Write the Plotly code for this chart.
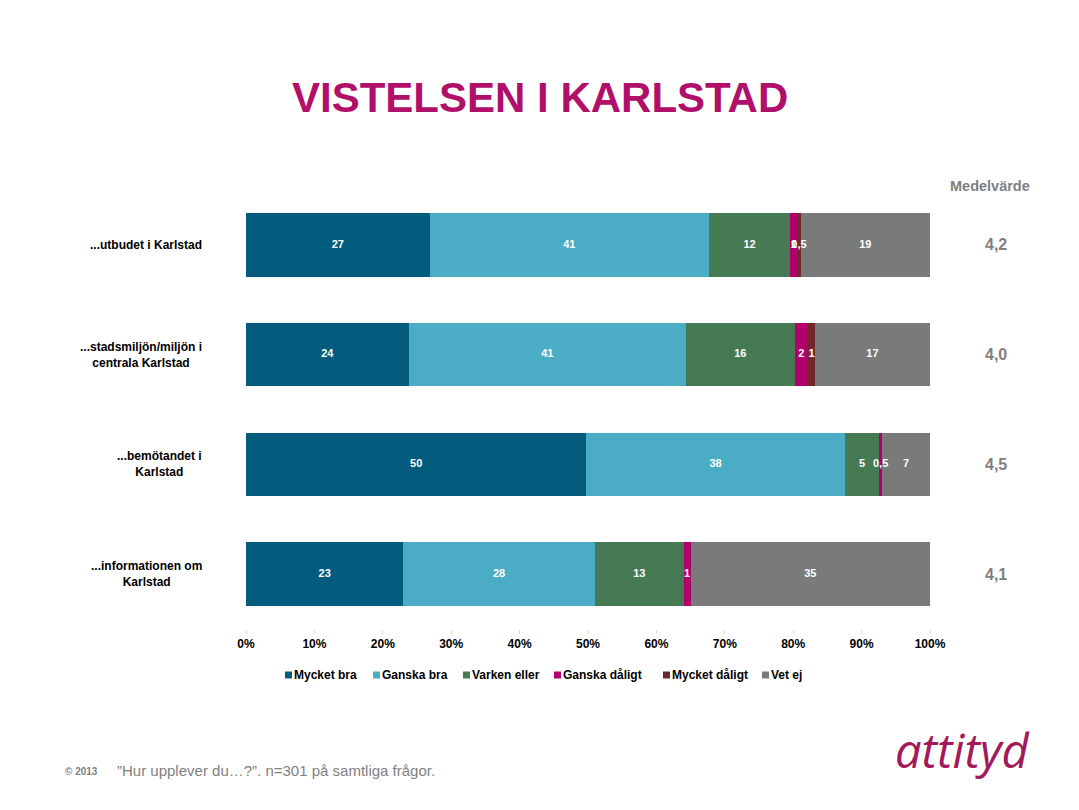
import plotly.graph_objects as go

categories = ["...utbudet i Karlstad", "...stadsmiljön/miljön i<br>centrala Karlstad",
              "...bemötandet i<br>Karlstad", "...informationen om<br>Karlstad"]
series_names = ["Mycket bra", "Ganska bra", "Varken eller", "Ganska dåligt", "Mycket dåligt", "Vet ej"]
mycket_bra = [27, 24, 50, 23]
ganska_bra = [41, 41, 38, 28]
varken_eller = [12, 16, 5, 13]
ganska_daligt = [1, 2, 0.5, 1]
mycket_daligt = [0.5, 1, 0, 0]
vet_ej = [19, 17, 7, 35]
medelvarde = ["4,2", "4,0", "4,5", "4,1"]
x_ticks = [0, 10, 20, 30, 40, 50, 60, 70, 80, 90, 100]

colors = ["#035C7D", "#4BACC6", "#467A55", "#B1006B", "#6E2828", "#7A7A7A"]
series = [mycket_bra, ganska_bra, varken_eller, ganska_daligt, mycket_daligt, vet_ej]

FONT = "Arial, Liberation Sans, sans-serif"
OFF = 8  # page body margin
W, H = 1079 - OFF, 810 - OFF


def fmt(v):
    if v == 0:
        return ""
    return ("%g" % v).replace(".", ",")


fig = go.Figure()
for name, vals, col in zip(series_names, series, colors):
    fig.add_trace(go.Bar(
        name=name, y=categories, x=vals, orientation="h",
        marker=dict(color=col, line=dict(width=0)),
        textposition="none", hoverinfo="skip", showlegend=False,
    ))

# value labels on top of all bars (midpoints of the normalised stacks)
totals = [sum(s[i] for s in series) for i in range(len(categories))]
cum = [0.0] * len(categories)
for vals in series:
    mids, texts = [], []
    for i, v in enumerate(vals):
        mids.append((cum[i] + v / 2) / totals[i] * 100)
        cum[i] += v
        texts.append(fmt(v))
    fig.add_trace(go.Scatter(
        x=mids, y=categories, mode="text", text=texts, textposition="middle center",
        textfont=dict(color="white", size=11, family=FONT, weight="bold"),
        hoverinfo="skip", showlegend=False, cliponaxis=False,
    ))

# plot area geometry in page px
L, R, T, B = 246, 930, 190, 629


def px_x(p):
    return (p - L) / (R - L)


def px_y(p):
    return (B - p) / (B - T)


ann = []
shapes = []
for cat, m in zip(categories, medelvarde):
    ann.append(dict(x=px_x(204), y=cat, xref="paper", yref="y", text=cat, showarrow=False,
                    xanchor="right", yanchor="middle", align="center",
                    font=dict(family=FONT, size=12, color="black", weight="bold")))
    ann.append(dict(x=px_x(996), y=cat, xref="paper", yref="y", text=m, showarrow=False,
                    xanchor="center", yanchor="middle",
                    font=dict(family=FONT, size=16, color="#7F7F7F", weight="bold")))

ann.append(dict(x=px_x(990), y=px_y(186), xref="paper", yref="paper", text="Medelvärde",
                showarrow=False, xanchor="center", yanchor="middle",
                font=dict(family=FONT, size=14.5, color="#7F7F7F", weight="bold")))
ann.append(dict(x=px_x(540), y=px_y(97), xref="paper", yref="paper", text="VISTELSEN I KARLSTAD",
                showarrow=False, xanchor="center", yanchor="middle",
                font=dict(family=FONT, size=42, color="#B0106A", weight="bold")))
ann.append(dict(x=px_x(63), y=px_y(771), xref="paper", yref="paper", text="© 2013",
                showarrow=False, xanchor="left", yanchor="middle",
                font=dict(family=FONT, size=10, color="#7F7F7F", weight="bold")))
ann.append(dict(x=px_x(115), y=px_y(770), xref="paper", yref="paper",
                text="”Hur upplever du…?”. n=301 på samtliga frågor.",
                showarrow=False, xanchor="left", yanchor="middle",
                font=dict(family=FONT, size=15, color="#7F7F7F")))
ann.append(dict(x=px_x(1032), y=px_y(750), xref="paper", yref="paper", text="<i>attityd</i>",
                showarrow=False, xanchor="right", yanchor="middle",
                font=dict(family="Open Sans, sans-serif", size=47, color="#A3195B")))

# legend (manual, compact like the original)
legend_x = [285, 373, 463, 554, 663, 762]
legend_y = 675
for name, col, lx in zip(series_names, colors, legend_x):
    shapes.append(dict(type="rect", xref="paper", yref="paper",
                       x0=px_x(lx), x1=px_x(lx + 7), y0=px_y(legend_y + 3.5), y1=px_y(legend_y - 3.5),
                       fillcolor=col, line=dict(width=0)))
    ann.append(dict(x=px_x(lx + 7), y=px_y(legend_y), xref="paper", yref="paper", text=name,
                    showarrow=False, xanchor="left", yanchor="middle",
                    font=dict(family=FONT, size=12, color="black", weight="bold")))

fig.update_layout(
    barmode="stack", barnorm="percent", bargap=0.42,
    width=W, height=H,
    margin=dict(l=L - OFF, r=W - (R - OFF), t=T - OFF, b=H - (B - OFF)),
    paper_bgcolor="white", plot_bgcolor="white",
    font=dict(family=FONT),
    showlegend=False,
    xaxis=dict(range=[0, 100], tickvals=x_ticks, ticktext=[f"{t}%" for t in x_ticks],
               showgrid=False, zeroline=False, showline=False,
               ticks="outside", ticklen=4, tickcolor="#D9D9D9", tickwidth=1,
               tickfont=dict(family=FONT, size=12, color="black", weight="bold"),
               fixedrange=True),
    yaxis=dict(autorange="reversed", showticklabels=False, showgrid=False, zeroline=False,
               showline=False, ticks="", fixedrange=True),
    annotations=ann,
    shapes=shapes,
)

fig.write_html("out.html")
